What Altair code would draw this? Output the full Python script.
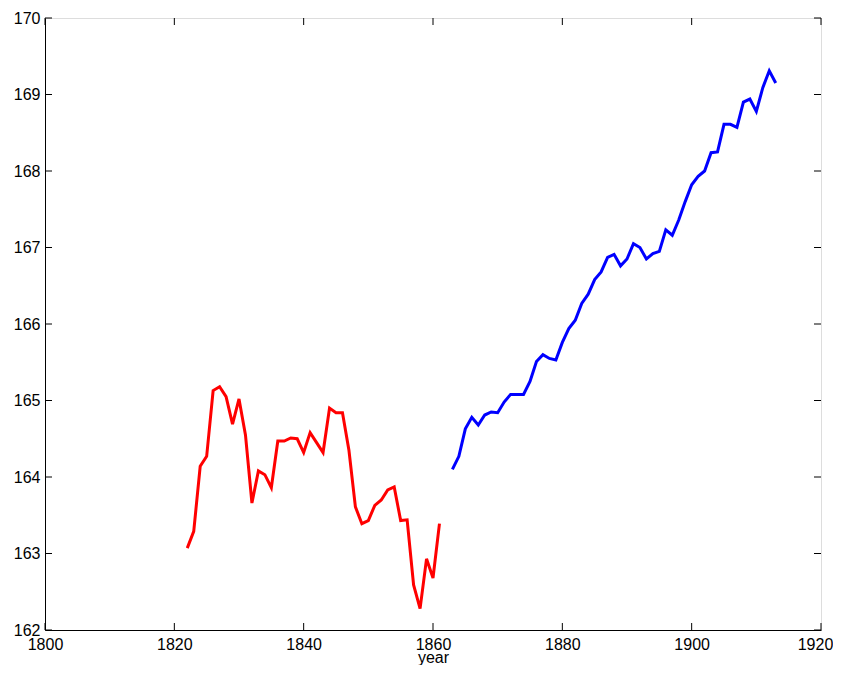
import altair as alt
import pandas as pd

# Red series: 1822-1861
red_years = list(range(1822, 1862))
red_values = [163.07, 163.29, 164.14, 164.27, 165.13, 165.18, 165.05, 164.69, 165.02, 164.55,
              163.66, 164.08, 164.03, 163.86, 164.47, 164.47, 164.51, 164.50, 164.32, 164.58,
              164.45, 164.32, 164.90, 164.84, 164.84, 164.35, 163.61, 163.39, 163.43, 163.63,
              163.70, 163.83, 163.87, 163.43, 163.44, 162.59, 162.28, 162.93, 162.68, 163.39]

# Blue series: 1863-1913
blue_years = list(range(1863, 1914))
blue_values = [164.10, 164.27, 164.63, 164.78, 164.68, 164.81, 164.85, 164.84, 164.98, 165.08,
               165.08, 165.08, 165.25, 165.51, 165.60, 165.55, 165.53, 165.76, 165.94, 166.05,
               166.27, 166.39, 166.58, 166.68, 166.87, 166.91, 166.76, 166.85, 167.05, 167.00,
               166.85, 166.92, 166.95, 167.23, 167.16, 167.36, 167.60, 167.82, 167.93, 168.00,
               168.24, 168.25, 168.61, 168.61, 168.57, 168.90, 168.94, 168.78, 169.09, 169.31,
               169.15]

x_ticks = [1800, 1820, 1840, 1860, 1880, 1900, 1920]
y_ticks = [162, 163, 164, 165, 166, 167, 168, 169, 170]

df = pd.DataFrame({
    "year": red_years + blue_years,
    "value": red_values + blue_values,
    "series": ["red"] * len(red_years) + ["blue"] * len(blue_years),
})
xt = pd.DataFrame({"year": x_ticks})
yt = pd.DataFrame({"value": y_ticks})

W, H = 776, 612
FONT = "Liberation Sans"
FS = 16

xscale = alt.Scale(domain=[1800, 1920], nice=False, zero=False)
yscale = alt.Scale(domain=[162, 170], nice=False, zero=False)

lines = alt.Chart(df).mark_line(strokeWidth=3, strokeJoin="miter").encode(
    x=alt.X("year:Q", scale=xscale, title="year",
            axis=alt.Axis(values=x_ticks, format="d", ticks=False, grid=False,
                          labelFontSize=FS, labelFont=FONT, labelColor="black",
                          labelFlush=False, labelOverlap=False,
                          labelOffset={"condition": {"test": "datum.value == 1920", "value": -6},
                                       "value": 0},
                          labelPadding=6, domainColor="black", domainWidth=1,
                          titleFont=FONT, titleFontSize=FS, titleFontWeight="normal",
                          titleColor="black", titleY=32, titleBaseline="alphabetic")),
    y=alt.Y("value:Q", scale=yscale, title=None,
            axis=alt.Axis(values=y_ticks, format="d", ticks=False, grid=False,
                          labelFontSize=FS, labelFont=FONT, labelColor="black",
                          labelFlush=False, labelOverlap=False,
                          labelPadding=5, domainColor="black", domainWidth=1)),
    color=alt.Color("series:N", scale=alt.Scale(domain=["red", "blue"], range=["#ff0000", "#0000ff"]),
                    legend=None),
    detail="series:N",
)

bottom_ticks = alt.Chart(xt).mark_rule(color="black", strokeWidth=1).encode(
    x=alt.X("year:Q", scale=xscale), y=alt.value(H), y2=alt.value(H - 7))
top_ticks = alt.Chart(xt).mark_rule(color="black", strokeWidth=1).encode(
    x=alt.X("year:Q", scale=xscale), y=alt.value(0), y2=alt.value(7))
left_ticks = alt.Chart(yt).mark_rule(color="black", strokeWidth=1).encode(
    y=alt.Y("value:Q", scale=yscale), x=alt.value(0), x2=alt.value(7))
right_ticks = alt.Chart(yt).mark_rule(color="black", strokeWidth=1).encode(
    y=alt.Y("value:Q", scale=yscale), x=alt.value(W), x2=alt.value(W - 7))

chart = alt.layer(lines, bottom_ticks, top_ticks, left_ticks, right_ticks).properties(
    width=W, height=H,
    autosize=alt.AutoSizeParams(type="none"),
    padding={"left": 37, "top": 10, "right": 12, "bottom": 35},
).configure_view(stroke="black", strokeWidth=1).configure(background="white")

chart.save("out.html", embed_options={"renderer": "svg", "actions": False})
